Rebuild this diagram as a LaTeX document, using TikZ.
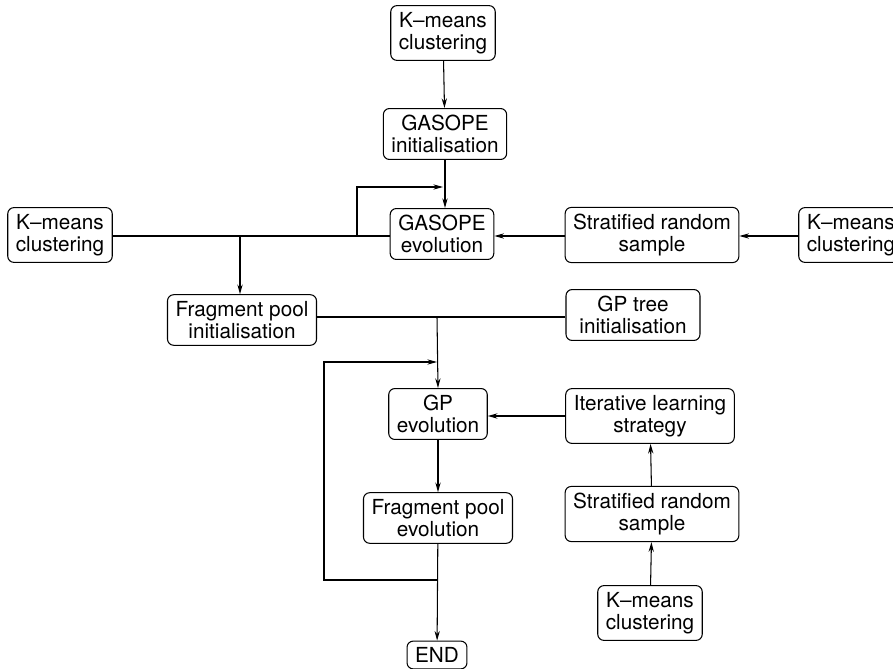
\documentclass[tikz,border=0pt]{standalone}
\usepackage{fontspec}
\setmainfont{TeX Gyre Heros}
\usetikzlibrary{arrows.meta}
\begin{document}
\begin{tikzpicture}[x=0.02cm,y=-0.02cm,line width=0.6pt,
    font=\fontsize{11.8}{12.8}\selectfont,
    box/.style={draw,rounded corners=3.5pt,align=center,inner xsep=4.6pt,inner ysep=3.6pt},
    >={Stealth[length=5.5pt,width=3pt,inset=1.8pt]}]
  \useasboundingbox (0,0) rectangle (893,669);
  \draw
    (443,33) node[box] (km1){K--means\\clustering}
    (445,134) node[box] (gi){GASOPE\\initialisation}
    (442,234) node[box] (ge){GASOPE\\evolution}
    (60,235) node[box] (km2){K--means\\clustering}
    (652,235) node[box] (srs1){Stratified random\\sample}
    (851,235) node[box] (km3){K--means\\clustering}
    (242,320) node[box] (fpi){Fragment pool\\initialisation}
    (633,315) node[box,minimum width=2.68cm] (gpt){GP tree\\initialisation}
    (438,414) node[box] (gpe){GP\\evolution}
    (650,416) node[box] (ils){Iterative learning\\strategy}
    (438,518) node[box] (fpe){Fragment pool\\evolution}
    (652,514) node[box] (srs2){Stratified random\\sample}
    (650,613) node[box] (km4){K--means\\clustering}
    (437,655) node[box] (end){END};
  % junctions
  \coordinate (j1) at (357,236);
  \coordinate (m1) at (443,187);
  \coordinate (j2) at (240,236);
  \coordinate (j3) at (437,317);
  \coordinate (m2) at (437,362);
  \coordinate (j4) at (437,580);
  \coordinate (c1) at (324,580);
  \begin{scope}[->]
    \draw (km1) to (gi);
    \draw (gi.south) to (gi.south |- ge.north);
    \draw (j1) |- (m1);
    \draw (j2) to (j2 |- fpi.north);
    \draw (km3.west |- j1) to (srs1.east |- j1);
    \draw (srs1.west |- j1) to (ge.east |- j1);
    \draw (j3) to (gpe.north);
    \draw (j4) -- (c1) |- (m2);
    \draw (gpe) to (fpe);
    \draw (ils.west |- 0,416) to (gpe.east |- 0,416);
    \draw (srs2) to (ils);
    \draw (km4) to (srs2);
    \draw (fpe) to (end);
  \end{scope}
  \draw (km2.east |- j1) to (ge.west |- j1);
  \draw (fpi.east |- j3) to (gpt.west |- j3);
\end{tikzpicture}
\end{document}
